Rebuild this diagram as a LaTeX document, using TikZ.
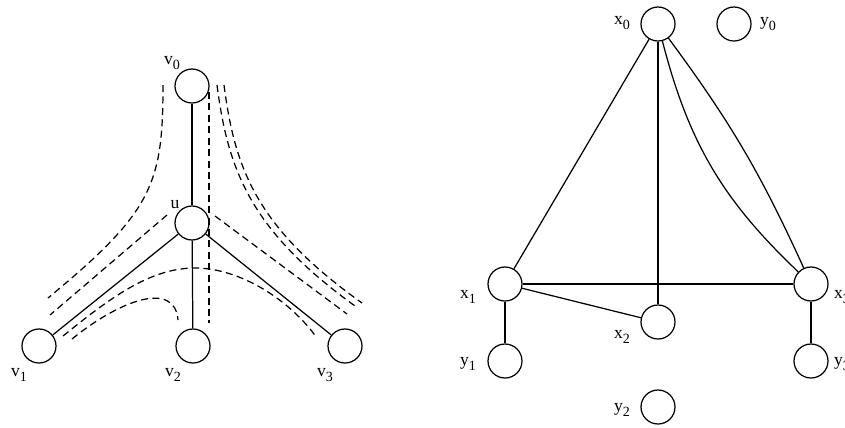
\documentclass[tikz,border=0pt]{standalone}
\usepackage{fontspec}
\setmainfont{Liberation Serif}
\usetikzlibrary{positioning}
\newcommand{\vlbl}[2]{#1\raisebox{-0.55ex}{\fontsize{8}{9}\selectfont #2}}

\begin{document}
\begin{tikzpicture}[x=0.02cm,y=-0.02cm]
\tikzset{
  vertex/.style={circle,draw,line width=0.7pt,minimum size=0.68cm,inner sep=0pt},
  vlabel/.style={inner sep=0pt,font=\fontsize{10}{12}\selectfont},
  edge/.style={line width=0.7pt},
  route/.style={dashed,line width=0.7pt,dash pattern=on 4pt off 2.5pt}
}
\useasboundingbox (0,0) rectangle (845,427);
% left tree
\node[vertex] (n_v0) at (192,86) {};
\node[vertex] (n_u) at (192,223) {};
\node[vertex] (n_v1) at (39,346) {};
\node[vertex] (n_v2) at (193,346) {};
\node[vertex] (n_v3) at (345,346) {};
\node[vlabel] (l_v0) at (172,63) {\vlbl{v}{0}};
\node[vlabel] (l_u) at (175,205) {u};
\node[vlabel] (l_v1) at (19,375) {\vlbl{v}{1}};
\node[vlabel] (l_v2) at (173,375) {\vlbl{v}{2}};
\node[vlabel] (l_v3) at (325,375) {\vlbl{v}{3}};
\draw[edge] (n_v0) -- (n_u);
\draw[edge] (n_u) -- (n_v1);
\draw[edge] (n_u) -- (n_v2);
\draw[edge] (n_u) -- (n_v3);
% dashed routes
\draw[route] (163,85) .. controls (163,185) and (152,212) .. (48,298);
\draw[route] (167,215) -- (50,315);
\draw[route] (63,336) .. controls (110,298) and (150,268) .. (195,268)
  .. controls (240,268) and (290,300) .. (317,338);
\draw[route] (72,339) .. controls (120,300) and (175,280) .. (178,320);
\draw[route] (209,92) -- (209,323);
\draw[route] (215,216) -- (347,314);
\draw[route] (217,85) .. controls (228,170) and (250,230) .. (355,306);
\draw[route] (224,85) .. controls (235,170) and (257,228) .. (362,303);
% right graph
\node[vertex] (n_x0) at (658,24) {};
\node[vertex] (n_y0) at (734,24) {};
\node[vertex] (n_x1) at (505,284) {};
\node[vertex] (n_x2) at (658,322) {};
\node[vertex] (n_x3) at (811,284) {};
\node[vertex] (n_y1) at (505,361) {};
\node[vertex] (n_y2) at (658,407) {};
\node[vertex] (n_y3) at (811,361) {};
\node[vlabel] (l_x0) at (622,23) {\vlbl{x}{0}};
\node[vlabel] (l_y0) at (768,24) {\vlbl{y}{0}};
\node[vlabel] (l_x1) at (468,297) {\vlbl{x}{1}};
\node[vlabel] (l_x2) at (622,337) {\vlbl{x}{2}};
\node[vlabel] (l_x3) at (842,297) {\vlbl{x}{3}};
\node[vlabel] (l_y1) at (468,364) {\vlbl{y}{1}};
\node[vlabel] (l_y2) at (622,410) {\vlbl{y}{2}};
\node[vlabel] (l_y3) at (842,364) {\vlbl{y}{3}};
\draw[edge] (n_x0) -- (n_x1);
\draw[edge] (n_x0) -- (n_x2);
\draw[edge] (n_x0) to[bend left=6] (n_x3);
\draw[edge] (n_x0) to[bend right=16] (n_x3);
\draw[edge] (n_x1) -- (n_x3);
\draw[edge] (n_x1) -- (n_x2);
\draw[edge] (n_x1) -- (n_y1);
\draw[edge] (n_x3) -- (n_y3);
\end{tikzpicture}
\end{document}
